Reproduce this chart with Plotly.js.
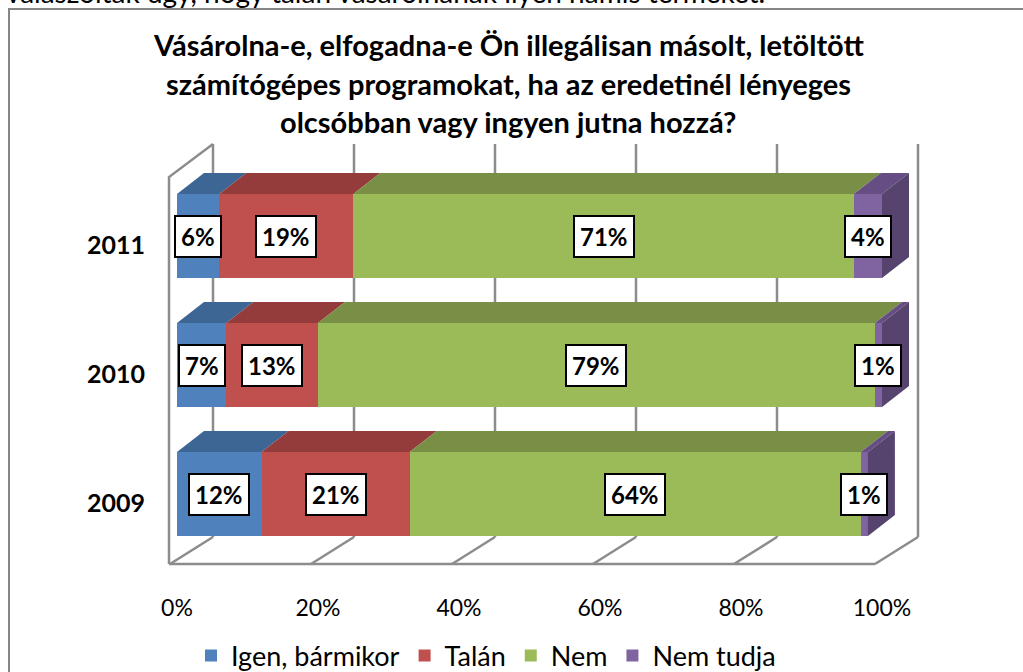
<!DOCTYPE html>
<html>
<head>
<meta charset="utf-8">
<script src="https://cdn.plot.ly/plotly-3.0.1.min.js"></script>
<style>html,body{margin:0;padding:0;background:#fff;overflow:hidden;}#chart{width:1023px;height:672px;}</style>
</head>
<body>
<div id="chart"></div>
<script>
// ---- data ----
const categories = ['2009', '2010', '2011'];
const seriesNames = ['Igen, bármikor', 'Talán', 'Nem', 'Nem tudja'];
const igen = [12, 7, 6];
const talan = [21, 13, 19];
const nem = [64, 79, 71];
const nemTudja = [1, 1, 4];
const xTickVals = [0, 20, 40, 60, 80, 100];
const xTickLabels = ['0%', '20%', '40%', '60%', '80%', '100%'];
const titleLines = [
  'Vásárolna-e, elfogadna-e Ön illegálisan másolt, letöltött',
  'számítógépes programokat, ha az eredetinél lényeges',
  'olcsóbban vagy ingyen jutna hozzá?'
];
const pageText = 'válaszoltak úgy, hogy talán vásárolnának ilyen hamis terméket.';

// ---- styling ----
const FONT = 'Lato, "Open Sans", sans-serif';
const frontColors = ['#4F81BD', '#C0504D', '#9BBB59', '#8064A2'];
const topColors = ['#3D6694', '#943C3B', '#788F45', '#664E84'];
const sideColors = ['#3A5F8A', '#8A3836', '#6E8440', '#56436E'];
const wallColor = '#8C8C8C';

const W = 1023, H = 672;
const plotL = 160, plotR = 930, plotT = 130, plotB = 575;
// pixel <-> data helpers (x: 0% at px 177, 7.05 px per %, y: category 2 at px 236, 129 px per category)
const X0PX = 177, XPX = 7.05, Y2PX = 236, YPX = 129;
const X = px => (px - X0PX) / XPX;
const Y = py => 2 - (py - Y2PX) / YPX;
const PX = px => (px - plotL) / (plotR - plotL);        // paper x
const PY = py => (plotB - py) / (plotB - plotT);        // paper y

const barWidth = 84 / YPX;
const depthDx = 27 / XPX, depthDy = 21 / YPX;

const series = [igen, talan, nem, nemTudja];
const yIdx = categories.map((c, i) => i);

const traces = series.map((vals, s) => ({
  type: 'bar',
  orientation: 'h',
  name: seriesNames[s],
  x: vals,
  y: yIdx,
  width: barWidth,
  marker: {color: frontColors[s], line: {width: 0}},
  hoverinfo: 'x+name'
}));

const shapes = [];
const annotations = [];

// walls (back wall gridlines, left wall, floor)
const backOff = X(213) - 0;
const floorOff = X(170) - 0;
xTickVals.forEach(v => {
  shapes.push({type: 'line', layer: 'below', xref: 'x', yref: 'y',
    x0: v + backOff, x1: v + backOff, y0: Y(144), y1: Y(537),
    line: {color: wallColor, width: 2.5}});
  shapes.push({type: 'line', layer: 'below', xref: 'x', yref: 'y',
    x0: v + backOff, x1: v + floorOff, y0: Y(537), y1: Y(564),
    line: {color: wallColor, width: 2.5}});
});
shapes.push({type: 'path', layer: 'below', xref: 'x', yref: 'y',
  path: `M${X(213)},${Y(144)} L${X(169)},${Y(177)} L${X(169)},${Y(564)}`,
  line: {color: wallColor, width: 2.5}});
shapes.push({type: 'line', layer: 'below', xref: 'x', yref: 'y',
  x0: X(169), x1: 100 + floorOff, y0: Y(564), y1: Y(564),
  line: {color: wallColor, width: 2.5}});

// 3D top/side faces and data labels
yIdx.forEach(i => {
  let cum = 0;
  const yt = i + barWidth / 2, yb = i - barWidth / 2;
  let lastS = -1, lastX1 = 0;
  series.forEach((vals, s) => {
    const v = vals[i];
    const x0 = cum, x1 = cum + v;
    shapes.push({type: 'path', layer: 'above', xref: 'x', yref: 'y',
      path: `M${x0},${yt} L${x1},${yt} L${x1 + depthDx},${yt + depthDy} L${x0 + depthDx},${yt + depthDy} Z`,
      fillcolor: topColors[s], line: {width: 0}});
    annotations.push({xref: 'x', yref: 'y', x: (x0 + x1) / 2, y: i,
      text: '<b>' + v + '%</b>', showarrow: false,
      font: {family: FONT, size: 24, color: '#000'},
      bgcolor: '#fff', bordercolor: '#000', borderwidth: 2, borderpad: 5});
    if (v > 0) { lastS = s; lastX1 = x1; }
    cum = x1;
  });
  shapes.push({type: 'path', layer: 'above', xref: 'x', yref: 'y',
    path: `M${lastX1},${yb} L${lastX1},${yt} L${lastX1 + depthDx},${yt + depthDy} L${lastX1 + depthDx},${yb + depthDy} Z`,
    fillcolor: sideColors[lastS], line: {width: 0}});
  // category label
  annotations.push({xref: 'paper', yref: 'y', x: PX(147), y: i, yshift: -8,
    xanchor: 'right', text: '<b>' + categories[i] + '</b>', showarrow: false,
    font: {family: FONT, size: 25, color: '#000'}});
});

// title lines
const titleY = [45, 83, 121];
titleLines.forEach((t, k) => {
  annotations.push({xref: 'paper', yref: 'paper', x: PX(508), y: PY(titleY[k]),
    xanchor: 'center', yanchor: 'middle', text: '<b>' + t + '</b>', showarrow: false,
    font: {family: FONT, size: 29, color: '#000'}});
});

// cut-off page text above the chart
annotations.push({xref: 'paper', yref: 'paper', x: PX(767), y: PY(-8),
  xanchor: 'right', yanchor: 'middle', text: pageText, showarrow: false,
  font: {family: FONT, size: 28, color: '#000'}});

// chart frame
shapes.push({type: 'path', layer: 'below', xref: 'paper', yref: 'paper',
  path: `M${PX(9)},${PY(700)} L${PX(9)},${PY(9)} L${PX(1030)},${PY(9)}`,
  line: {color: '#868686', width: 2}});

const layout = {
  width: W, height: H,
  margin: {l: plotL, r: W - plotR, t: plotT, b: H - plotB, pad: 0, autoexpand: false},
  paper_bgcolor: '#fff', plot_bgcolor: '#fff',
  barmode: 'stack', bargap: 0,
  showlegend: true,
  legend: {orientation: 'h', xref: 'container', yref: 'container',
    x: 486 / W, xanchor: 'center', y: 1 - 656 / H, yanchor: 'middle',
    font: {family: FONT, size: 27, color: '#000'}, traceorder: 'normal'},
  xaxis: {range: [X(plotL), X(plotR)], tickvals: xTickVals, ticktext: xTickLabels,
    showgrid: false, zeroline: false, showline: false, ticks: '',
    ticklabelstandoff: 17,
    tickfont: {family: FONT, size: 23, color: '#000'}, fixedrange: true},
  yaxis: {range: [Y(plotB), Y(plotT)], showgrid: false, zeroline: false, showline: false,
    showticklabels: false, ticks: '', fixedrange: true},
  shapes: shapes,
  annotations: annotations
};

Plotly.newPlot('chart', traces, layout, {displayModeBar: false, staticPlot: true});
</script>
</body>
</html>
